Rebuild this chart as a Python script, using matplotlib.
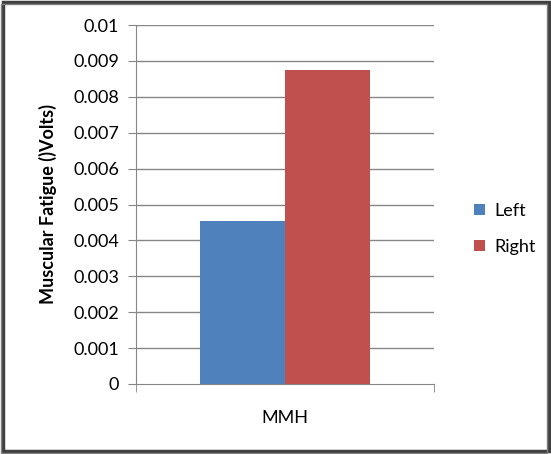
import matplotlib.pyplot as plt
from matplotlib.patches import Rectangle

# data
categories = ['MMH']
series_names = ['Left', 'Right']
left_vals = [0.00454]
right_vals = [0.00875]
y_ticks = [0, 0.001, 0.002, 0.003, 0.004, 0.005, 0.006, 0.007, 0.008, 0.009, 0.01]
y_tick_labels = ['0', '0.001', '0.002', '0.003', '0.004', '0.005',
                 '0.006', '0.007', '0.008', '0.009', '0.01']

plt.rcParams['font.family'] = ['Lato', 'DejaVu Sans']

fig = plt.figure(figsize=(5.51, 4.54), dpi=100)
ax = fig.add_axes([136 / 551, 1 - 384 / 454, 298 / 551, 359 / 454])

grid_col = '#868686'
w = 0.2857
x = list(range(len(categories)))
ax.bar([i - w / 2 for i in x], left_vals, width=w, color='#4f81bd', label=series_names[0], zorder=3)
ax.bar([i + w / 2 for i in x], right_vals, width=w, color='#c0504d', label=series_names[1], zorder=3)

ax.set_xlim(-0.5, 0.5)
ax.set_ylim(0, 0.01)
ax.set_yticks(y_ticks)
ax.set_yticklabels(y_tick_labels, fontsize=13)
ax.set_xticks(x)
ax.set_xticklabels(categories, fontsize=13)
ax.set_xticks([-0.5, 0.5], minor=True)
ax.tick_params(axis='x', which='major', length=0, pad=19)
ax.tick_params(axis='x', which='minor', length=6, color=grid_col)
ax.tick_params(axis='y', length=6, color=grid_col, pad=6)

for v in y_ticks[1:]:
    ax.axhline(v, color=grid_col, lw=1, zorder=1)

for s in ['top', 'right']:
    ax.spines[s].set_visible(False)
ax.spines['left'].set_color(grid_col)
ax.spines['bottom'].set_color(grid_col)

ax.set_ylabel('Muscular Fatigue ()Volts)', fontsize=13, fontweight='bold', labelpad=12)

ax.legend(loc='center left', bbox_to_anchor=(1.08, 0.432), frameon=False, fontsize=13,
          handlelength=0.6, handleheight=0.6, labelspacing=1.1, handletextpad=0.5)

# chart border with a little shadow
fig.patches.append(Rectangle((3 / 551, 3 / 454), 546 / 551, 449 / 454, transform=fig.transFigure,
                             fill=False, edgecolor='#404040', lw=2.5))
fig.patches.append(Rectangle((1 / 551, 1 / 454), 546 / 551, 449 / 454, transform=fig.transFigure,
                             fill=False, edgecolor='#808080', lw=1))

fig.savefig('out.png', dpi=100)
